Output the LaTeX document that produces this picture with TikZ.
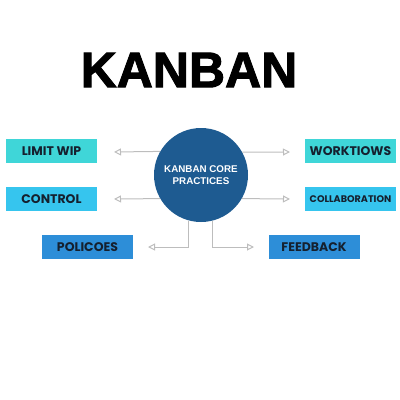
\documentclass[tikz,border=0pt]{standalone}
\usepackage{fontspec}
\setmainfont{Liberation Sans}
\newfontfamily\popfont{Poppins}
\newfontfamily\heavyfont{Liberation Sans Bold}[FakeBold=2]
\usetikzlibrary{arrows.meta,positioning}
\definecolor{hubblue}{HTML}{1E5B91}
\definecolor{turq}{HTML}{3FD6D8}
\definecolor{skyblue}{HTML}{36C5EE}
\definecolor{midblue}{HTML}{2D8ED8}
\definecolor{boxtext}{HTML}{15202E}
\definecolor{linkgray}{HTML}{BDBDBD}
\tikzset{
    practice/.style={minimum width=91pt,minimum height=24pt,inner sep=0pt,text=boxtext,
        font=\popfont\bfseries\fontsize{12.5}{13}\selectfont},
    hub/.style={circle,fill=hubblue,minimum size=94pt,inner sep=0pt,text=white,align=center,
        font=\bfseries\fontsize{9.8}{12}\selectfont},
    link/.style={-{Triangle[open,length=7pt,width=7pt]},draw=linkgray,line width=1pt},
}
\begin{document}
\begin{tikzpicture}[x=1pt,y=-1pt]
    \useasboundingbox (0,0) rectangle (400,400);
    \node[font=\heavyfont\fontsize{50}{50}\selectfont] (title) at (189,70) {KANBAN};
    \node[hub] (core) at (201,175) {KANBAN CORE\\PRACTICES};
    % practice boxes
    \node[practice,fill=turq] (wip) at (51.5,151) {LIMIT WIP};
    \node[practice,fill=skyblue] (control) at (51.5,199) {CONTROL};
    \node[practice,fill=midblue] (policies) at (87.5,247) {POLICOES};
    \node[practice,fill=turq] (flows) at (350.5,151) {WORKTIOWS};
    \node[practice,fill=skyblue,font=\popfont\bfseries\fontsize{9.6}{10}\selectfont] (collab) at (350.5,199) {COLLABORATION};
    \node[practice,fill=midblue] (feedback) at (314,247) {FEEDBACK};
    % arrow ends
    \coordinate (wip end) at (114,152);
    \coordinate (control end) at (114,199);
    \coordinate (policies end) at (148,247);
    \coordinate (flows end) at (290,152);
    \coordinate (collab end) at (290,199);
    \coordinate (feedback end) at (254,247);
    \draw[link] (core.150.7) -- (wip end);
    \draw[link] (core.210.7) -- (control end);
    \draw[link] (core.255.2) |- (policies end);
    \draw[link] (core.29.3) -- (flows end);
    \draw[link] (core.-30.7) -- (collab end);
    \draw[link] (core.284.8) |- (feedback end);
\end{tikzpicture}
\end{document}
